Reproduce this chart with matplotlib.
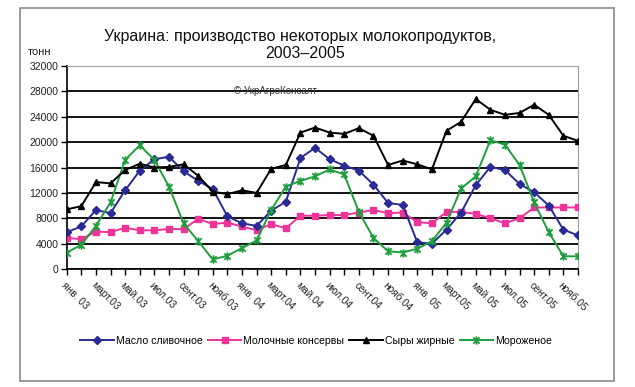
import matplotlib
matplotlib.use("Agg")
import matplotlib.pyplot as plt
from matplotlib.path import Path
from matplotlib.patches import Rectangle

plt.rcParams['font.family'] = ['Liberation Sans', 'DejaVu Sans']

# ---- data ----
months = ["янв. 03", "", "март.03", "", "май.03", "", "июл.03", "", "сент.03", "", "нояб.03", "",
          "янв. 04", "", "март.04", "", "май.04", "", "июл.04", "", "сент.04", "", "нояб.04", "",
          "янв. 05", "", "март.05", "", "май.05", "", "июл.05", "", "сент.05", "", "нояб.05", ""]

butter = [5800, 6700, 9300, 8800, 12400, 15500, 17300, 17700, 15400, 13900, 12600, 8300,
          7200, 6800, 9200, 10600, 17500, 19100, 17300, 16300, 15500, 13300, 10400, 10100,
          4200, 4000, 6200, 8900, 13200, 16100, 15600, 13400, 12100, 10000, 6200, 5300]
condensed = [4900, 4700, 5900, 5800, 6500, 6100, 6100, 6300, 6300, 7900, 7100, 7300,
             6700, 6100, 7100, 6400, 8400, 8400, 8500, 8500, 8900, 9300, 8800, 8900,
             7400, 7200, 9000, 9000, 8700, 8000, 7200, 8000, 9700, 9700, 9700, 9700]
cheese = [9400, 9900, 13700, 13500, 15600, 16600, 16000, 16100, 16500, 14700, 12200, 11800,
          12400, 12000, 15800, 16400, 21500, 22300, 21500, 21300, 22200, 21000, 16400, 17100,
          16500, 15700, 21800, 23200, 26800, 25100, 24300, 24600, 25900, 24300, 21000, 20200]
icecream = [2600, 3800, 6800, 10500, 17200, 19500, 17200, 13000, 7200, 4400, 1500, 2100,
            3300, 4500, 9300, 13000, 13900, 14600, 15700, 14900, 9000, 4900, 2800, 2600,
            3200, 4400, 7300, 12700, 14600, 20300, 19600, 16400, 10500, 5800, 2000, 2000]

series_names = ["Масло сливочное", "Молочные консервы", "Сыры жирные", "Мороженое"]
yticks = [0, 4000, 8000, 12000, 16000, 20000, 24000, 28000, 32000]

# ---- figure ----
W, H = 635, 387
fig = plt.figure(figsize=(W / 100, H / 100), dpi=100)
fig.patch.set_facecolor('white')

# outer border
fig.patches.append(Rectangle((20 / W, 1 - 381 / H), 594 / W, 373 / H,
                             transform=fig.transFigure, fill=False,
                             edgecolor='#8a8a8a', linewidth=1.2))

ax = fig.add_axes([66.7 / W, 1 - 269 / H, (578 - 66.7) / W, (269 - 66) / H])

x = list(range(len(months)))

star = Path([(-1, -1), (1, 1), (-1, 1), (1, -1), (0, -1.3), (0, 1.3)],
            [Path.MOVETO, Path.LINETO, Path.MOVETO, Path.LINETO, Path.MOVETO, Path.LINETO])

ax.plot(x, butter, color='#2a2a96', lw=1.4, marker='D', ms=4.2, mfc='#2a2a96', mec='#2a2a96',
        label=series_names[0], zorder=5)
ax.plot(x, condensed, color='#ee3399', lw=1.4, marker='s', ms=4.5, mfc='#ee3399', mec='#ee3399',
        label=series_names[1], zorder=4)
ax.plot(x, cheese, color='black', lw=1.4, marker='^', ms=5, mfc='black', mec='black',
        label=series_names[2], zorder=6)
ax.plot(x, icecream, color='#1f9e3e', lw=1.4, marker=star, ms=6, mfc='none', mec='#1f9e3e', mew=1.3,
        label=series_names[3], zorder=5)

ax.set_xlim(0, len(months) - 1)
ax.set_ylim(0, 32000)
ax.set_yticks(yticks)
ax.set_yticklabels([str(v) for v in yticks], fontsize=7.5, color='#222222')
ax.set_xticks(x)
ax.set_xticklabels(months, rotation=-45, ha='left', va='top', rotation_mode='anchor',
                   fontsize=7.3, color='#222222')
ax.tick_params(axis='x', direction='out', length=4, width=1, pad=4)
ax.tick_params(axis='y', direction='out', length=4, width=1, pad=2)

ax.grid(axis='y', color='black', lw=1.3, zorder=1)
ax.set_axisbelow(True)
for s in ['top', 'right']:
    ax.spines[s].set_color('#a0a0a0')
    ax.spines[s].set_linewidth(0.8)
for s in ['left', 'bottom']:
    ax.spines[s].set_color('black')
    ax.spines[s].set_linewidth(1.2)

ax.text(14.3, 28000, "© УкрАгроКонсалт", ha='center', va='center', fontsize=7,
        color='#333333', zorder=3)

fig.text(300 / W, 1 - 36 / H, "Украина: производство некоторых молокопродуктов,",
         ha='center', va='center', fontsize=11.5, color='#111111')
fig.text(305 / W, 1 - 53 / H, "2003–2005", ha='center', va='center', fontsize=11.5, color='#111111')
fig.text(28 / W, 1 - 52 / H, "тонн", ha='left', va='center', fontsize=8, color='#222222')

fig.legend(loc='center', bbox_to_anchor=(316 / W, 1 - 341 / H), ncol=4, frameon=False,
           fontsize=7.6, handlelength=3.2, handletextpad=0.15, columnspacing=0.5,
           borderaxespad=0)

fig.savefig("out.png", dpi=100)
